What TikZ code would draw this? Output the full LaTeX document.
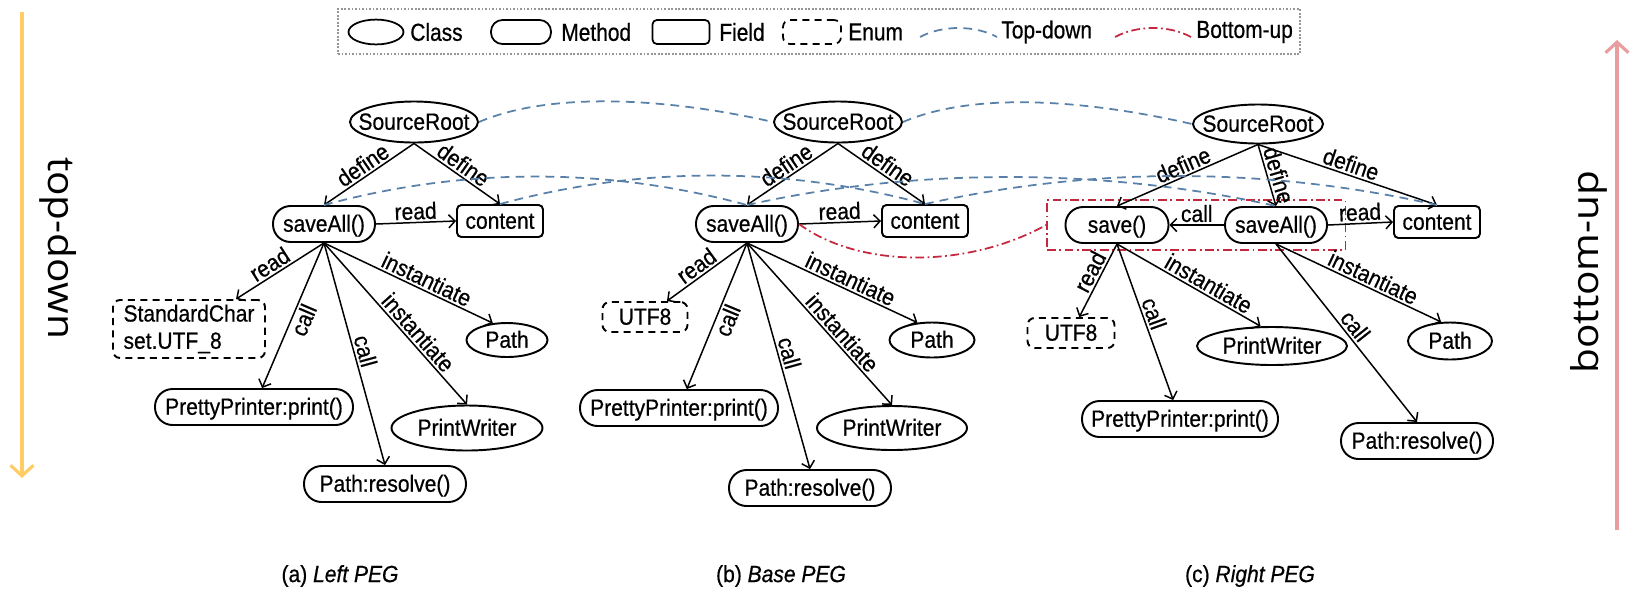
\documentclass[tikz,border=0pt]{standalone}
\usepackage{fontspec}
\setmainfont[FakeStretch=0.9, FakeBold=0.6]{Liberation Sans}
\newfontfamily\legendfont[FakeStretch=0.85, FakeBold=0.6]{Liberation Sans}
\newfontfamily\sidefont[FakeStretch=1.1]{Open Sans}
\usetikzlibrary{arrows.meta,shapes.geometric,fit}

\definecolor{tdblue}{RGB}{88,128,168}
\definecolor{bured}{RGB}{196,40,62}
\definecolor{tdorange}{RGB}{255,204,102}
\definecolor{bupink}{RGB}{232,158,158}
\definecolor{legendgray}{RGB}{150,150,150}

\begin{document}
\begin{tikzpicture}[x=0.02cm, y=-0.02cm,
  every node/.style={font=\fontsize{13.3}{15.5}\selectfont, text=black},
  pxw/.style={minimum width=#1*0.02cm},
  pxh/.style={minimum height=#1*0.02cm},
  base/.style={draw, line width=1.1pt, text height=9.4pt, text depth=0.6pt},
  cls/.style={base, ellipse, inner xsep=-6pt, inner ysep=0pt},
  mth/.style={base, rectangle, rounded corners=10pt, inner xsep=2pt, inner ysep=0pt, pxh=36},
  fld/.style={base, rectangle, rounded corners=2.5pt, inner xsep=2pt, inner ysep=0pt},
  enm/.style={fld, dash pattern=on 4pt off 3pt, rounded corners=4pt},
  rel/.style={draw, line width=0.85pt, -{Straight Barb[length=3.6pt,width=7.5pt]}},
  lab/.style={sloped, above, inner sep=1.2pt},
  td/.style={draw=tdblue, line width=1pt, dash pattern=on 5pt off 3.5pt},
  bu/.style={draw=bured, line width=1pt, dash pattern=on 5pt off 2pt on 1pt off 2pt},
  sidearrow/.style={line width=1.8pt, -{Straight Barb[length=6pt,width=13pt]}},
  legtext/.style={anchor=west, inner sep=0pt, font=\legendfont\fontsize{14}{16}\selectfont},
  sidetext/.style={font=\sidefont\fontsize{21}{25}\selectfont}
]
\useasboundingbox (0,0) rectangle (1633,600);

% ---------- legend ----------
\node[draw=legendgray, line width=0.6pt, dash pattern=on 1pt off 1pt, pxw=962, pxh=45, inner sep=0pt] (legend) at (819,31.5) {};
\node[cls, line width=1pt, pxw=55, pxh=22] (lgC) at (376,32) {};
\node[legtext] (lgCt) at (410,32) {Class};
\node[mth, line width=1pt, pxw=60, pxh=24, rounded corners=6.5pt] (lgM) at (521,32) {};
\node[legtext] (lgMt) at (561,32) {Method};
\node[fld, line width=1pt, pxw=57, pxh=24] (lgF) at (681,32) {};
\node[legtext] (lgFt) at (719,32) {Field};
\node[enm, line width=1pt, pxw=58, pxh=24] (lgE) at (812,32) {};
\node[legtext] (lgEt) at (848,32) {Enum};
\coordinate (lgTa) at (920,37); \coordinate (lgTb) at (997,37);
\draw[td] (lgTa) .. controls +(22,-12) and +(-22,-12) .. (lgTb);
\node[legtext] (lgTt) at (1001,32) {Top-down};
\coordinate (lgBa) at (1115,37); \coordinate (lgBb) at (1191,37);
\draw[bu] (lgBa) .. controls +(22,-12) and +(-22,-12) .. (lgBb);
\node[legtext] (lgBt) at (1196,32) {Bottom-up};

% ---------- side arrows ----------
\coordinate (tdS) at (22,12); \coordinate (tdE) at (22,478);
\draw[sidearrow, tdorange] (tdS) -- (tdE);
\node[sidetext, rotate=-90] (tdT) at (58,248) {top-down};
\coordinate (buS) at (1617,530); \coordinate (buE) at (1617,40);
\draw[sidearrow, bupink] (buS) -- (buE);
\node[sidetext, rotate=90] (buT) at (1589,272) {bottom-up};

% ---------- (a) left PEG ----------
\node[cls, pxw=128, pxh=41] (srA) at (414,122) {SourceRoot};
\node[mth, pxw=102] (saA) at (324,224) {saveAll()};
\node[fld, pxw=86, pxh=32] (coA) at (500,221) {content};
\node[enm, pxw=152, pxh=58, align=left, text height=, text depth=] (scA) at (189,329) {StandardChar\\set.UTF\_8};
\node[cls, pxw=81, pxh=34] (paA) at (507,340) {Path};
\node[mth, pxw=198] (ppA) at (254,407) {PrettyPrinter:print()};
\node[cls, pxw=151, pxh=45] (pwA) at (467,428) {PrintWriter};
\node[mth, pxw=162] (prA) at (385,484) {Path:resolve()};

\draw[rel] (srA.south) -- node[lab]{define} (saA.north);
\draw[rel] (srA.south) -- node[lab]{define} (coA.north);
\draw[rel] (saA.east) -- node[lab]{read} (coA.west);
\draw[rel] (saA.south) -- node[lab, pos=0.55]{read} (scA);
\draw[rel] (saA.south) -- node[lab, below, pos=0.5]{call} (ppA);
\draw[rel] (saA.south) -- node[lab, pos=0.5]{call} (prA.north);
\draw[rel] (saA.south) -- node[lab, pos=0.6]{instantiate} (pwA.north);
\draw[rel] (saA.south) -- node[lab, pos=0.58]{instantiate} (paA.130);

% ---------- (b) base PEG ----------
\node[cls, pxw=128, pxh=41] (srB) at (838,122) {SourceRoot};
\node[mth, pxw=102] (saB) at (747,224) {saveAll()};
\node[fld, pxw=86, pxh=32] (coB) at (925,221) {content};
\node[enm, pxw=85, pxh=30] (utB) at (645,317) {UTF8};
\node[cls, pxw=85, pxh=35] (paB) at (932,340) {Path};
\node[mth, pxw=198] (ppB) at (679,408) {PrettyPrinter:print()};
\node[cls, pxw=150, pxh=44] (pwB) at (892,428) {PrintWriter};
\node[mth, pxw=162] (prB) at (810,488) {Path:resolve()};

\draw[rel] (srB.south) -- node[lab]{define} (saB.north);
\draw[rel] (srB.south) -- node[lab]{define} (coB.north);
\draw[rel] (saB.east) -- node[lab]{read} (coB.west);
\draw[rel] (saB.south) -- node[lab, pos=0.55]{read} (utB);
\draw[rel] (saB.south) -- node[lab, below, pos=0.5]{call} (ppB);
\draw[rel] (saB.south) -- node[lab, pos=0.5]{call} (prB.north);
\draw[rel] (saB.south) -- node[lab, pos=0.6]{instantiate} (pwB.north);
\draw[rel] (saB.south) -- node[lab, pos=0.58]{instantiate} (paB.130);

% ---------- (c) right PEG ----------
\node[cls, pxw=130, pxh=39] (srC) at (1258,124) {SourceRoot};
\node[mth, pxw=103] (svC) at (1117,225) {save()};
\node[mth, pxw=102] (saC) at (1276,225) {saveAll()};
\node[fld, pxw=86, pxh=32] (coC) at (1437,222) {content};
\node[enm, pxw=87, pxh=30] (utC) at (1071,333) {UTF8};
\node[cls, pxw=150, pxh=38] (pwC) at (1272,346) {PrintWriter};
\node[cls, pxw=84, pxh=37] (paC) at (1450,341) {Path};
\node[mth, pxw=196] (ppC) at (1180,419) {PrettyPrinter:print()};
\node[mth, pxw=152] (prC) at (1417,441) {Path:resolve()};
\node[bu, fit=(svC)(saC), inner xsep=0.35cm, inner ysep=0.12cm] (grpC) {};

\draw[rel] (srC.south) -- node[lab]{define} (svC.north);
\draw[rel] (srC.south) -- node[lab, pos=0.55]{define} (saC.north);
\draw[rel] (srC.south) -- node[lab]{define} (coC.north);
\draw[rel] (saC.west) -- node[lab]{call} (svC.east);
\draw[rel] (saC.east) -- node[lab]{read} (coC.west);
\draw[rel] (svC.south) -- node[lab, pos=0.45]{read} (utC);
\draw[rel] (svC.south) -- node[lab, pos=0.47]{call} (ppC);
\draw[rel] (svC.south) -- node[lab, pos=0.6]{instantiate} (pwC.120);
\draw[rel] (saC.south) -- node[lab, pos=0.5]{call} (prC.north);
\draw[rel] (saC.south) -- node[lab, pos=0.56]{instantiate} (paC.115);

% ---------- top-down correspondences ----------
\draw[td] (srA.east) .. controls +(70,-30) and +(-110,-25) .. (srB.west);
\draw[td] (srB.east) .. controls +(70,-30) and +(-110,-25) .. (srC.west);
\draw[td] (saA.north) .. controls +(140,-38) and +(-140,-38) .. (saB.north);
\draw[td] (coA.north) .. controls +(140,-38) and +(-140,-38) .. (coB.north);
\draw[td] (saB.north) .. controls +(170,-38) and +(-170,-38) .. (saC.north);
\draw[td] (coB.north) .. controls +(170,-38) and +(-170,-38) .. (coC.north);

% ---------- bottom-up correspondence ----------
\draw[bu] (saB.east) .. controls +(60,44) and +(-80,44) .. (grpC.west);

% ---------- captions ----------
\node (capA) at (340,576) {(a) \textit{Left PEG}};
\node (capB) at (781,576) {(b) \textit{Base PEG}};
\node (capC) at (1250,576) {(c) \textit{Right PEG}};
\end{tikzpicture}
\end{document}
